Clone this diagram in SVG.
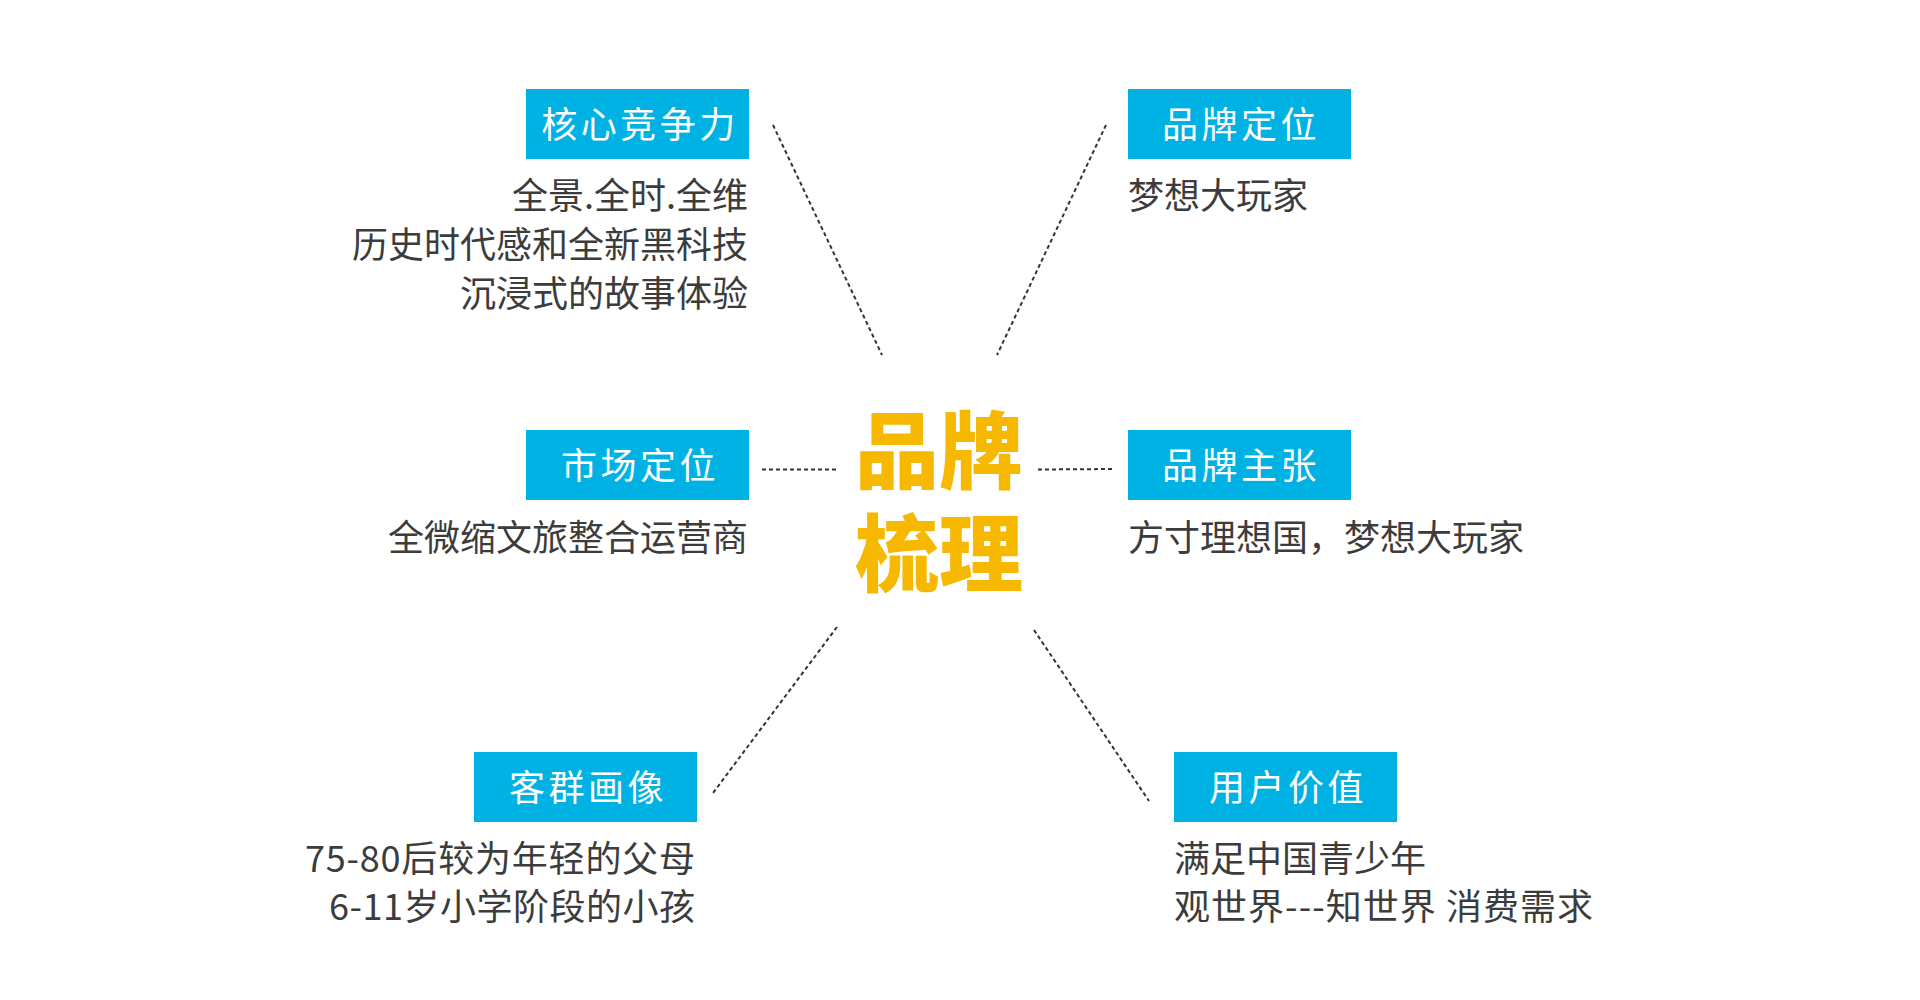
<svg xmlns="http://www.w3.org/2000/svg" width="1920" height="1000" viewBox="0 0 1920 1000">
<style>
.box{fill:#00B2E3}
.lbl{font-family:"Noto Sans CJK SC","Liberation Sans",sans-serif;font-size:36px;fill:#ffffff;text-anchor:middle;letter-spacing:3.5px}
.body{font-family:"Noto Sans CJK SC","Liberation Sans",sans-serif;font-size:36px;fill:#3c3c3c}
.r{text-anchor:end}
.title{font-family:"Noto Sans CJK SC",sans-serif;font-size:84px;font-weight:900;fill:#F6B800;text-anchor:middle}
.dash{stroke:#333333;stroke-width:2;stroke-dasharray:4 3;fill:none}
</style>
<rect width="1920" height="1000" fill="#ffffff"/>
<g id="connectors">
<line class="dash" x1="773" y1="125" x2="882" y2="355"/>
<line class="dash" x1="1106" y1="125" x2="997" y2="355"/>
<line class="dash" x1="762" y1="469.5" x2="838" y2="469.5"/>
<line class="dash" x1="1038" y1="469.5" x2="1115" y2="469"/>
<line class="dash" x1="837" y1="627" x2="713" y2="793"/>
<line class="dash" x1="1034" y1="630" x2="1149" y2="801"/>
</g>
<g id="center">
<text class="title" x="939" y="482">品牌</text>
<text class="title" x="939" y="585">梳理</text>
</g>
<g id="core">
<rect class="box" x="526" y="89" width="223" height="70"/>
<text class="lbl" x="640" y="138">核心竞争力</text>
<text class="body r" x="748" y="209">全景.全时.全维</text>
<text class="body r" x="748" y="258">历史时代感和全新黑科技</text>
<text class="body r" x="748" y="307">沉浸式的故事体验</text>
</g>
<g id="brand-position">
<rect class="box" x="1128" y="89" width="223" height="70"/>
<text class="lbl" x="1241" y="138">品牌定位</text>
<text class="body" x="1128" y="209">梦想大玩家</text>
</g>
<g id="market-position">
<rect class="box" x="526" y="430" width="223" height="70"/>
<text class="lbl" x="640" y="479">市场定位</text>
<text class="body r" x="748" y="551">全微缩文旅整合运营商</text>
</g>
<g id="brand-claim">
<rect class="box" x="1128" y="430" width="223" height="70"/>
<text class="lbl" x="1241" y="479">品牌主张</text>
<text class="body" x="1128" y="551">方寸理想国，梦想大玩家</text>
</g>
<g id="customer">
<rect class="box" x="474" y="752" width="223" height="70"/>
<text class="lbl" x="588" y="801">客群画像</text>
<text class="body r" x="695" y="872" textLength="390" lengthAdjust="spacing">75-80后较为年轻的父母</text>
<text class="body r" x="695" y="920" textLength="366" lengthAdjust="spacing">6-11岁小学阶段的小孩</text>
</g>
<g id="user-value">
<rect class="box" x="1174" y="752" width="223" height="70"/>
<text class="lbl" x="1288" y="801">用户价值</text>
<text class="body" x="1174" y="872">满足中国青少年</text>
<text class="body" x="1174" y="920" textLength="419" lengthAdjust="spacing">观世界---知世界 消费需求</text>
</g>
</svg>
